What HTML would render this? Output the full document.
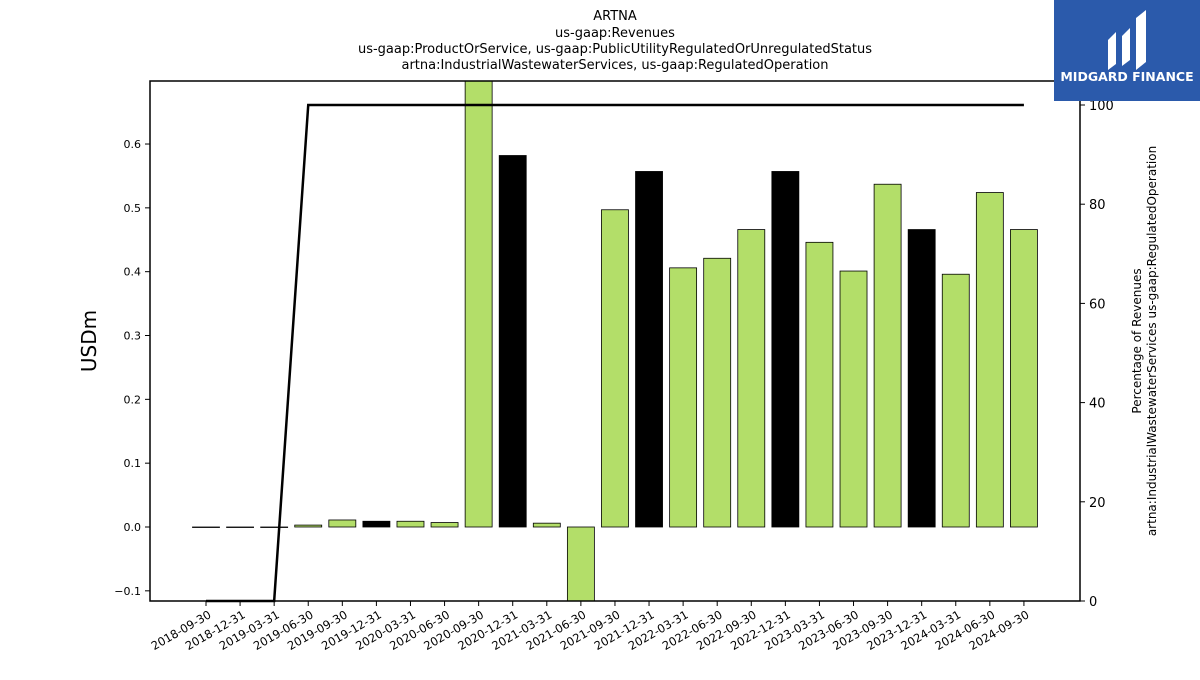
<!DOCTYPE html>
<html><head><meta charset="utf-8"><style>
body{margin:0;background:#fff;font-family:"Liberation Sans","DejaVu Sans",sans-serif}
svg text{font-family:"DejaVu Sans","Liberation Sans",sans-serif}
</style></head><body>
<svg id="c" width="1200" height="675" xmlns="http://www.w3.org/2000/svg">
<g font-size="13" text-anchor="middle">
<text x="615" y="20">ARTNA</text>
<text x="615" y="37">us-gaap:Revenues</text>
<text x="615" y="53">us-gaap:ProductOrService, us-gaap:PublicUtilityRegulatedOrUnregulatedStatus</text>
<text x="615" y="69">artna:IndustrialWastewaterServices, us-gaap:RegulatedOperation</text>
</g>
<g id="bars"></g>
<g id="line"></g>
<rect x="150" y="81" width="930" height="520" fill="none" stroke="#000" stroke-width="1.5"/>
<g id="axes"></g>
<text transform="translate(96,341) rotate(-90)" font-size="20" text-anchor="middle">USDm</text>
<g font-size="12" text-anchor="middle">
<text transform="translate(1141,341) rotate(-90)">Percentage of Revenues</text>
<text transform="translate(1156,341) rotate(-90)">artna:IndustrialWastewaterServices us-gaap:RegulatedOperation</text>
</g>
<g>
<rect x="1054" y="0" width="146" height="101" fill="#2b5aab"/>
<path d="M1108 70 L1108 40 L1116 32 L1116 64 Z M1122 66 L1122 36 L1130 28 L1130 60 Z M1136 70 L1136 18 L1146 10 L1146 62 Z" fill="#fff"/>
<text x="1127" y="81" fill="#fff" font-size="12.5" font-weight="bold" text-anchor="middle">MIDGARD FINANCE</text>
</g>
</svg>
<script>
const categories=["2018-09-30","2018-12-31","2019-03-31","2019-06-30","2019-09-30","2019-12-31","2020-03-31","2020-06-30","2020-09-30","2020-12-31","2021-03-31","2021-06-30","2021-09-30","2021-12-31","2022-03-31","2022-06-30","2022-09-30","2022-12-31","2023-03-31","2023-06-30","2023-09-30","2023-12-31","2024-03-31","2024-06-30","2024-09-30"];
const revenues=[0,0,0,0.003,0.011,0.009,0.009,0.007,0.75,0.582,0.006,-0.14,0.497,0.557,0.406,0.421,0.466,0.557,0.446,0.401,0.537,0.466,0.396,0.524,0.466];
const annual=[false,true,false,false,false,true,false,false,false,true,false,false,false,true,false,false,false,true,false,false,false,true,false,false,false];
const percentages=[0,0,0,100,100,100,100,100,100,100,100,100,100,100,100,100,100,100,100,100,100,100,100,100,100];
const leftTicks=[-0.1,0,0.1,0.2,0.3,0.4,0.5,0.6];
const rightTicks=[0,20,40,60,80,100];
const NS="http://www.w3.org/2000/svg";
const X0=150,X1=1080,Y0=81,Y1=601;
const yL=v=>527-v*638.3;
const yR=v=>601-v*4.96;
const xC=i=>206+i*34.08;
const clampY=y=>Math.max(Y0,Math.min(Y1,y));
function mk(t,a,p){const e=document.createElementNS(NS,t);for(const k in a)e.setAttribute(k,a[k]);p.appendChild(e);return e;}
const bars=document.getElementById('bars');
revenues.forEach((v,i)=>{
  const a=clampY(yL(v)),b=clampY(yL(0));
  const r=mk('rect',{x:xC(i)-13.5,y:Math.min(a,b),width:27,height:Math.max(Math.abs(b-a),0.5),fill:annual[i]?'#000':'#b3de69',stroke:'#000','stroke-width':0.8},bars);
  
  
});
const line=document.getElementById('line');
const pl=mk('polyline',{points:percentages.map((v,i)=>xC(i)+','+yR(v)).join(' '),fill:'none',stroke:'#000','stroke-width':2.5},line);


const axes=document.getElementById('axes');
const la=mk('g',{'font-size':11},axes);


leftTicks.forEach(v=>{const y=yL(v);mk('line',{x1:X0-5,x2:X0,y1:y,y2:y,stroke:'#000'},la);
 const t=mk('text',{x:X0-9,y:y+4,'text-anchor':'end'},la);t.textContent=(v<0?'\u22120.1':v.toFixed(1));});
const ra=mk('g',{'font-size':13},axes);


rightTicks.forEach(v=>{const y=yR(v);mk('line',{x1:X1,x2:X1+5,y1:y,y2:y,stroke:'#000'},ra);
 const t=mk('text',{x:X1+9,y:y+5},ra);t.textContent=v;});
const xa=mk('g',{'font-size':11.5},axes);


categories.forEach((c,i)=>{const x=xC(i);mk('line',{x1:x,x2:x,y1:Y1,y2:Y1+5,stroke:'#000'},xa);
 const t=mk('text',{x:0,y:0,'text-anchor':'end',transform:`translate(${x+6},${Y1+16}) rotate(-30)`},xa);t.textContent=c;});
</script>
</body></html>
